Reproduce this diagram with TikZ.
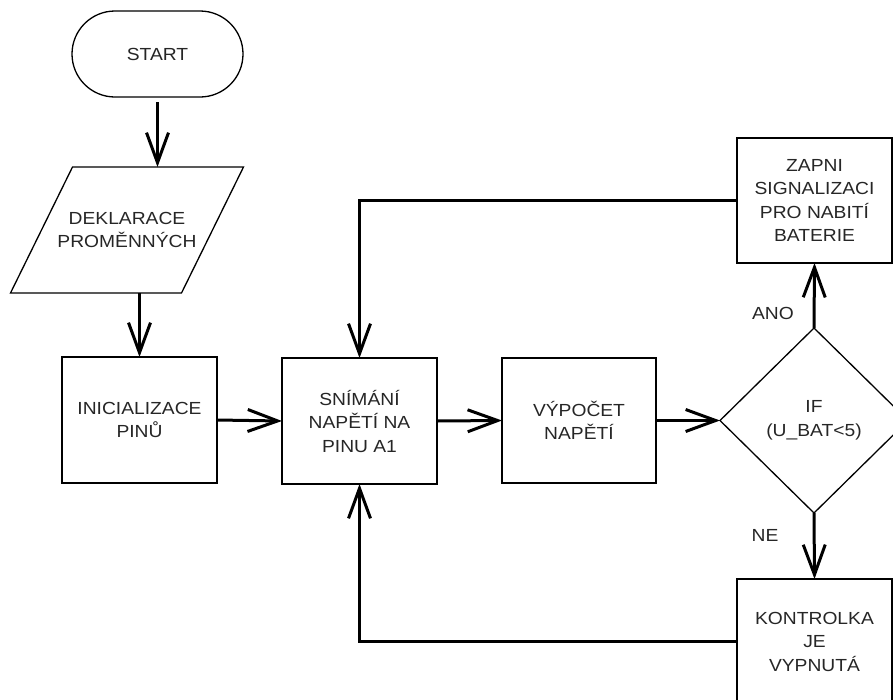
\documentclass[tikz,border=0pt]{standalone}
\usepackage{fontspec}
\setmainfont{Liberation Sans}[FakeStretch=1.1]
\usetikzlibrary{arrows.meta,shapes.geometric}
\begin{document}
\begin{tikzpicture}[x=1pt,y=-1pt,
  every node/.style={font=\fontsize{17.5}{23.5}\selectfont, align=center, outer sep=0pt, text=black!85},
  box/.style={draw, line width=1.6pt, minimum width=155pt, minimum height=126pt},
  conn/.style={line width=3pt, -{Straight Barb[length=30pt,width=22pt,line width=3pt]}},
  plain/.style={line width=3pt}
]
\useasboundingbox (0,0) rectangle (893,699);
\fill[white] (0,0) rectangle (893,699);

\node[draw, line width=1.3pt, rounded corners=43pt, minimum width=171pt, minimum height=86pt] (start) at (157.5,54) {START};
\node[minimum width=171pt, minimum height=126pt] (dekl) at (127,230) {DEKLARACE\\PROMĚNNÝCH};
\draw[line width=1.3pt] ([xshift=31pt]dekl.north west) -- ([xshift=31pt]dekl.north east) -- ([xshift=-31pt]dekl.south east) -- ([xshift=-31pt]dekl.south west) -- cycle;

\node[box] (init) at (139.5,420) {INICIALIZACE\\PINŮ};
\node[box] (snim) at (359.5,421) {SNÍMÁNÍ\\NAPĚTÍ NA\\PINU A1};
\node[box, minimum width=154pt, minimum height=125pt] (vypo) at (579,420.5) {VÝPOČET\\NAPĚTÍ};
\node[draw, diamond, line width=1.3pt, minimum width=188pt, minimum height=185pt, inner sep=0pt] (diam) at (814,420.5) {IF\\(U\_BAT<5)};
\node[box, minimum height=125pt] (zapni) at (814.5,200.5) {ZAPNI\\SIGNALIZACI\\PRO NABITÍ\\BATERIE};
\node[box, minimum height=125pt] (kontr) at (814.5,641.5) {KONTROLKA\\JE\\VYPNUTÁ};

\node (ano) at (773,313) {ANO};
\node (ne) at (765,535) {NE};

\draw[conn, shorten <=5pt] (start.south) -- (dekl.north -| start.south);
\draw[conn] (dekl.south -| init.north) -- (init.north);
\draw[conn] (init.east) -- (snim.west);
\draw[conn] (snim.east) -- (vypo.west);
\draw[conn] (vypo.east) -- (diam.west);
\draw[conn] (diam.north) -- (zapni.south);
\draw[conn] (diam.south) -- (kontr.north);
\draw[conn] (zapni.west) -| (snim.north);
\draw[conn] (kontr.west) -| (snim.south);
\end{tikzpicture}
\end{document}
